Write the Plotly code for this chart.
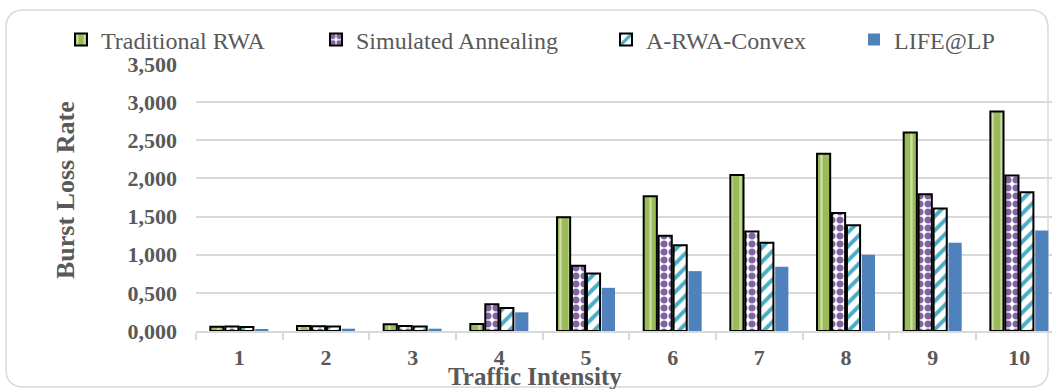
import plotly.graph_objects as go

categories = ["1", "2", "3", "4", "5", "6", "7", "8", "9", "10"]
traditional_rwa = [0.057, 0.066, 0.088, 0.092, 1.491, 1.767, 2.044, 2.325, 2.601, 2.877]
simulated_annealing = [0.058, 0.062, 0.066, 0.350, 0.855, 1.250, 1.303, 1.548, 1.794, 2.039]
a_rwa_convex = [0.054, 0.058, 0.060, 0.300, 0.754, 1.123, 1.158, 1.386, 1.605, 1.820]
life_lp = [0.026, 0.030, 0.030, 0.245, 0.566, 0.785, 0.842, 1.000, 1.158, 1.316]
y_ticks = [0, 0.5, 1.0, 1.5, 2.0, 2.5, 3.0, 3.5]

W, H = 1052, 389
ML, MR, MT, MB = 196, 0, 64, 58
PW, PH = W - ML - MR, H - MT - MB
CAT_W = 86.67

def pxx(x):
    return (x - ML) / PW

def pxy(y):
    return (H - MB - y) / PH

GRAY = "#595959"
GRID = "#D9D9D9"
FONT = "Liberation Serif"

xs = list(range(len(categories)))

fig = go.Figure()
fig.add_trace(go.Bar(
    x=xs, y=traditional_rwa, name="Traditional RWA", legend="legend",
    marker=dict(color="#9BBB59", line=dict(color="black", width=2),
                pattern=dict(shape="|", fgcolor="white", bgcolor="#9BBB59", size=9, solidity=0.25, fillmode="overlay")),
))
fig.add_trace(go.Bar(
    x=xs, y=simulated_annealing, name="Simulated Annealing", legend="legend2",
    marker=dict(color="#8064A2", line=dict(color="black", width=2),
                pattern=dict(shape=".", fgcolor="#8064A2", bgcolor="white", size=8, solidity=0.6, fillmode="replace")),
))
fig.add_trace(go.Bar(
    x=xs, y=a_rwa_convex, name="A-RWA-Convex", legend="legend3",
    marker=dict(color="#4BACC6", line=dict(color="black", width=2),
                pattern=dict(shape="/", fgcolor="#4BACC6", bgcolor="white", size=10, solidity=0.4, fillmode="replace")),
))
fig.add_trace(go.Bar(
    x=xs, y=life_lp, name="LIFE@LP", legend="legend4",
    marker=dict(color="#4F81BD", line=dict(width=0)),
))

leg_font = dict(family=FONT, size=24, color=GRAY)
marker_centers = [81, 336, 626, 874]
legends = {}
for i, mc in enumerate(marker_centers):
    key = "legend" if i == 0 else f"legend{i+1}"
    legends[key] = dict(orientation="h", yanchor="middle", xanchor="left", bgcolor="rgba(0,0,0,0)",
                        font=leg_font, itemwidth=30, borderwidth=0,
                        x=pxx(mc - 20), y=pxy(40))

tick_font = dict(family=FONT, size=22, color=GRAY, weight="bold")

fig.update_layout(
    width=W, height=H,
    font=dict(family=FONT, size=22, color=GRAY),
    margin=dict(l=ML, r=MR, t=MT, b=MB, autoexpand=False),
    paper_bgcolor="white", plot_bgcolor="white",
    barmode="group", bargap=0.31, bargroupgap=0.12,
    separators=",.",
    showlegend=True,
    **legends,
    xaxis=dict(
        range=[-0.5, -0.5 + PW / CAT_W],
        tickmode="array", tickvals=xs, ticktext=categories,
        ticks="", showgrid=False, zeroline=False,
        showline=True, linecolor=GRID, linewidth=1.5,
        tickfont=tick_font, ticklabelstandoff=6,
        minor=dict(tickvals=[v - 0.5 for v in range(len(categories) + 1)], ticks="outside",
                   ticklen=7, tickwidth=1.5, tickcolor=GRID, showgrid=False),
    ),
    yaxis=dict(
        range=[0, 3.5], tickmode="array", tickvals=y_ticks, tickformat=".3f",
        showgrid=True, gridcolor=GRID, gridwidth=1.5, zeroline=False, showline=False,
        ticks="", tickfont=tick_font, ticklabelstandoff=18,
    ),
    annotations=[
        dict(text="Burst Loss Rate", xref="paper", yref="paper", x=pxx(65), y=pxy(190),
             xanchor="center", yanchor="middle", textangle=-90, showarrow=False,
             font=dict(family=FONT, size=26, color=GRAY, weight="bold")),
        dict(text="Traffic Intensity", xref="paper", yref="paper", x=pxx(535), y=pxy(376),
             xanchor="center", yanchor="middle", showarrow=False,
             font=dict(family=FONT, size=25, color=GRAY, weight="bold")),
    ],
)

# rounded chart frame
L, T, R, B, r = 6, 10, 1048, 387, 18
path = (f"M {pxx(L + r)},{pxy(T)} L {pxx(R - r)},{pxy(T)} Q {pxx(R)},{pxy(T)} {pxx(R)},{pxy(T + r)} "
        f"L {pxx(R)},{pxy(B - r)} Q {pxx(R)},{pxy(B)} {pxx(R - r)},{pxy(B)} "
        f"L {pxx(L + r)},{pxy(B)} Q {pxx(L)},{pxy(B)} {pxx(L)},{pxy(B - r)} "
        f"L {pxx(L)},{pxy(T + r)} Q {pxx(L)},{pxy(T)} {pxx(L + r)},{pxy(T)} Z")
fig.add_shape(type="path", path=path, xref="paper", yref="paper",
              line=dict(color=GRID, width=1.5), fillcolor="rgba(0,0,0,0)", layer="below")

fig.write_html("out.html")
